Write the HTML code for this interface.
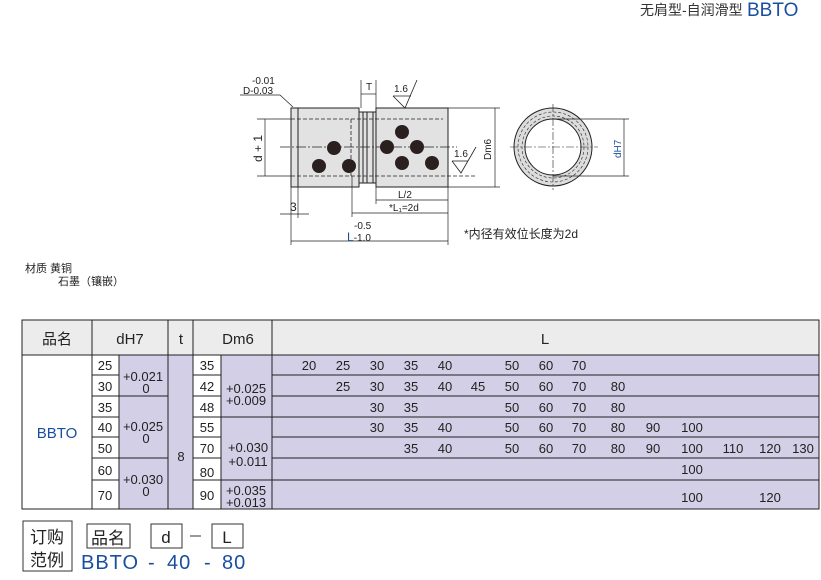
<!DOCTYPE html>
<html><head><meta charset="utf-8"><style>
html,body{margin:0;padding:0;background:#fff;}
svg{display:block;font-family:"Liberation Sans","Noto Sans CJK SC",sans-serif;}
</style></head><body>
<svg width="821" height="580" viewBox="0 0 821 580" xmlns="http://www.w3.org/2000/svg">
<text x="640" y="15" font-size="14" fill="#333">无肩型-自润滑型</text>
<text x="747" y="16" font-size="19" fill="#1a4fa0">BBTO</text>

<g stroke="#222" stroke-width="1" fill="none">
  <rect x="291" y="108" width="68" height="79" fill="#e2e2e2"/>
  <rect x="359" y="112" width="17" height="71" fill="#e2e2e2"/>
  <rect x="376" y="108" width="72" height="79" fill="#e2e2e2"/>
  <line x1="298" y1="108" x2="298" y2="187"/>
  <line x1="363" y1="112" x2="363" y2="183"/>
  <line x1="367" y1="112" x2="367" y2="183"/>
  <line x1="373" y1="112" x2="373" y2="183"/>
  <g stroke-dasharray="4,2" stroke-width="0.8">
    <line x1="291" y1="119" x2="443" y2="119"/>
    <line x1="291" y1="176" x2="475" y2="176"/>
    <line x1="351" y1="119" x2="351" y2="176"/>
  </g>
  <line x1="280" y1="147" x2="457" y2="147" stroke-dasharray="10,2,2,2" stroke-width="0.7"/>
  <line x1="257" y1="119" x2="291" y2="119" stroke-width="0.7"/>
  <line x1="257" y1="176" x2="291" y2="176" stroke-width="0.7"/>
  <line x1="265" y1="119" x2="265" y2="176" stroke-width="0.7"/>
  <line x1="448" y1="108" x2="500" y2="108" stroke-width="0.7"/>
  <line x1="448" y1="187" x2="500" y2="187" stroke-width="0.7"/>
  <line x1="495" y1="108" x2="495" y2="187" stroke-width="0.7"/>
  <line x1="361" y1="80" x2="361" y2="108" stroke-width="0.7"/>
  <line x1="376" y1="80" x2="376" y2="108" stroke-width="0.7"/>
  <line x1="361" y1="94" x2="376" y2="94" stroke-width="0.7"/>
  <polyline points="393,96 405,108 417,80" stroke-width="0.8"/>
  <line x1="393" y1="96" x2="411" y2="96" stroke-width="0.8"/>
  <polyline points="452,161 461,173 476,147" stroke-width="0.8"/>
  <line x1="452" y1="161" x2="468" y2="161" stroke-width="0.8"/>
  <polyline points="240,95 280,95 293,107" stroke-width="0.7"/>
  <line x1="291" y1="187" x2="291" y2="245" stroke-width="0.7"/>
  <line x1="298" y1="187" x2="298" y2="218" stroke-width="0.7"/>
  <line x1="448" y1="187" x2="448" y2="245" stroke-width="0.7"/>
  <line x1="352" y1="176" x2="352" y2="217" stroke-width="0.7"/>
  <line x1="376" y1="183" x2="376" y2="204" stroke-width="0.7"/>
  <line x1="376" y1="200" x2="448" y2="200" stroke-width="0.7"/>
  <line x1="352" y1="213" x2="448" y2="213" stroke-width="0.7"/>
  <line x1="280" y1="214" x2="309" y2="214" stroke-width="0.7"/>
  <line x1="291" y1="241" x2="448" y2="241" stroke-width="0.7"/>
  <circle cx="553" cy="147" r="39" fill="#dcdcdc"/>
  <circle cx="553" cy="147" r="28" fill="#fff"/>
  <circle cx="553" cy="147" r="35" stroke-dasharray="3,2" stroke-width="0.6"/>
  <circle cx="553" cy="147" r="31" stroke-dasharray="3,2" stroke-width="0.6"/>
  <line x1="510" y1="147" x2="598" y2="147" stroke-dasharray="8,2,2,2" stroke-width="0.6"/>
  <line x1="553" y1="104" x2="553" y2="190" stroke-dasharray="8,2,2,2" stroke-width="0.6"/>
  <line x1="553" y1="119" x2="629" y2="119" stroke-width="0.7"/>
  <line x1="553" y1="176" x2="629" y2="176" stroke-width="0.7"/>
  <line x1="624" y1="119" x2="624" y2="176" stroke-width="0.7"/>
</g>
<g fill="#2a2020">
  <circle cx="334" cy="148" r="7"/><circle cx="319" cy="166" r="7"/><circle cx="349" cy="166" r="7"/>
  <circle cx="402" cy="132" r="7"/><circle cx="387" cy="147" r="7"/><circle cx="417" cy="147" r="7"/>
  <circle cx="402" cy="163" r="7"/><circle cx="432" cy="163" r="7"/>
</g>
<g font-size="10" fill="#222">
  <text x="252" y="84">-0.01</text>
  <text x="243" y="94">D-0.03</text>
  <text x="366" y="90">T</text>
  <text x="394" y="92">1.6</text>
  <text x="454" y="157">1.6</text>
  <text x="398" y="198">L/2</text>
  <text x="389" y="211">*L₁=2d</text>
  <text x="290" y="211" font-size="12">3</text>
  <text x="354" y="229">-0.5</text>
  <text x="347" y="241"><tspan fill="#1a4fa0" font-size="12">L</tspan>-1.0</text>
  <text transform="translate(262,162) rotate(-90)" font-size="12">d + 1</text>
  <text transform="translate(491,160) rotate(-90)">Dm6</text>
  <text transform="translate(621,158) rotate(-90)" fill="#1a4fa0">dH7</text>
  <text x="464" y="238" font-size="12">*内径有效位长度为2d</text>
  <text x="25" y="272" font-size="11">材质 黄铜</text>
  <text x="58" y="285" font-size="11">石墨（镶嵌）</text>
</g>

<g>
  <rect x="22" y="320" width="797" height="189" fill="#fff"/>
  <rect x="22" y="320" width="797" height="35" fill="#ececec"/>
  <rect x="119" y="355" width="49" height="154" fill="#d3cfe6"/>
  <rect x="168" y="355" width="25" height="154" fill="#d3cfe6"/>
  <rect x="221" y="355" width="598" height="154" fill="#d3cfe6"/>
</g>
<g stroke="#222" stroke-width="1" fill="none">
  <rect x="22" y="320" width="797" height="189"/>
  <line x1="22" y1="355" x2="819" y2="355"/>
  <line x1="92" y1="320" x2="92" y2="509"/>
  <line x1="168" y1="320" x2="168" y2="509"/>
  <line x1="193" y1="320" x2="193" y2="509"/>
  <line x1="272" y1="320" x2="272" y2="509"/>
  <line x1="119" y1="355" x2="119" y2="509"/>
  <line x1="221" y1="355" x2="221" y2="509"/>
  <line x1="92" y1="375" x2="119" y2="375"/>
  <line x1="92" y1="396" x2="168" y2="396"/>
  <line x1="92" y1="417" x2="119" y2="417"/>
  <line x1="92" y1="437" x2="119" y2="437"/>
  <line x1="92" y1="458" x2="168" y2="458"/>
  <line x1="92" y1="480" x2="119" y2="480"/>
  <line x1="193" y1="375" x2="221" y2="375"/>
  <line x1="193" y1="396" x2="221" y2="396"/>
  <line x1="193" y1="417" x2="272" y2="417"/>
  <line x1="193" y1="437" x2="221" y2="437"/>
  <line x1="193" y1="458" x2="221" y2="458"/>
  <line x1="193" y1="480" x2="272" y2="480"/>
  <line x1="272" y1="375" x2="819" y2="375"/>
  <line x1="272" y1="396" x2="819" y2="396"/>
  <line x1="272" y1="417" x2="819" y2="417"/>
  <line x1="272" y1="437" x2="819" y2="437"/>
  <line x1="272" y1="458" x2="819" y2="458"/>
  <line x1="272" y1="480" x2="819" y2="480"/>
</g>
<g font-size="15" fill="#222" text-anchor="middle">
  <text x="57" y="344">品名</text>
  <text x="130" y="344">dH7</text>
  <text x="181" y="344">t</text>
  <text x="238" y="344">Dm6</text>
  <text x="545" y="344">L</text>
  <text x="57" y="438" fill="#1a4fa0">BBTO</text>
</g>
<g font-size="13" fill="#222">
  <g text-anchor="middle">
    <text x="105" y="370">25</text><text x="105" y="391">30</text><text x="105" y="412">35</text>
    <text x="105" y="432">40</text><text x="105" y="453">50</text><text x="105" y="475">60</text>
    <text x="105" y="500">70</text>
    <text x="207" y="370">35</text><text x="207" y="391">42</text><text x="207" y="412">48</text>
    <text x="207" y="432">55</text><text x="207" y="453">70</text><text x="207" y="477">80</text>
    <text x="207" y="500">90</text>
    <text x="181" y="461">8</text>
    <text x="143" y="381">+0.021</text><text x="146" y="393">0</text>
    <text x="143" y="431">+0.025</text><text x="146" y="443">0</text>
    <text x="143" y="484">+0.030</text><text x="146" y="496">0</text>
    <text x="246" y="393">+0.025</text><text x="246" y="405">+0.009</text>
    <text x="248" y="452">+0.030</text><text x="248" y="466">+0.011</text>
    <text x="246" y="495">+0.035</text><text x="246" y="507">+0.013</text>
  </g>
  <g text-anchor="middle">
    <text x="309" y="370">20</text><text x="343" y="370">25</text><text x="377" y="370">30</text><text x="411" y="370">35</text><text x="445" y="370">40</text><text x="512" y="370">50</text><text x="546" y="370">60</text><text x="579" y="370">70</text>
    <text x="343" y="391">25</text><text x="377" y="391">30</text><text x="411" y="391">35</text><text x="445" y="391">40</text><text x="478" y="391">45</text><text x="512" y="391">50</text><text x="546" y="391">60</text><text x="579" y="391">70</text><text x="618" y="391">80</text>
    <text x="377" y="412">30</text><text x="411" y="412">35</text><text x="512" y="412">50</text><text x="546" y="412">60</text><text x="579" y="412">70</text><text x="618" y="412">80</text>
    <text x="377" y="432">30</text><text x="411" y="432">35</text><text x="445" y="432">40</text><text x="512" y="432">50</text><text x="546" y="432">60</text><text x="579" y="432">70</text><text x="618" y="432">80</text><text x="653" y="432">90</text><text x="692" y="432">100</text>
    <text x="411" y="453">35</text><text x="445" y="453">40</text><text x="512" y="453">50</text><text x="546" y="453">60</text><text x="579" y="453">70</text><text x="618" y="453">80</text><text x="653" y="453">90</text><text x="692" y="453">100</text><text x="733" y="453">110</text><text x="770" y="453">120</text><text x="803" y="453">130</text>
    <text x="692" y="474">100</text>
    <text x="692" y="502">100</text><text x="770" y="502">120</text>
  </g>
</g>

<g stroke="#333" stroke-width="1" fill="none">
  <rect x="23" y="521" width="49" height="50"/>
  <rect x="87" y="524" width="43" height="24"/>
  <rect x="151" y="524" width="31" height="24"/>
  <rect x="212" y="524" width="31" height="24"/>
  <line x1="190" y1="536" x2="201" y2="536"/>
</g>
<g font-size="17" fill="#222" text-anchor="middle">
  <text x="47" y="543">订购</text>
  <text x="47" y="566">范例</text>
  <text x="108" y="544">品名</text>
  <text x="166" y="543">d</text>
  <text x="227" y="543">L</text>
</g>
<g font-size="20" fill="#1a4fa0" letter-spacing="1">
  <text x="81" y="569">BBTO</text>
  <text x="148" y="569">-</text>
  <text x="167" y="569">40</text>
  <text x="204" y="569">-</text>
  <text x="222" y="569">80</text>
</g>
</svg>
</body></html>
